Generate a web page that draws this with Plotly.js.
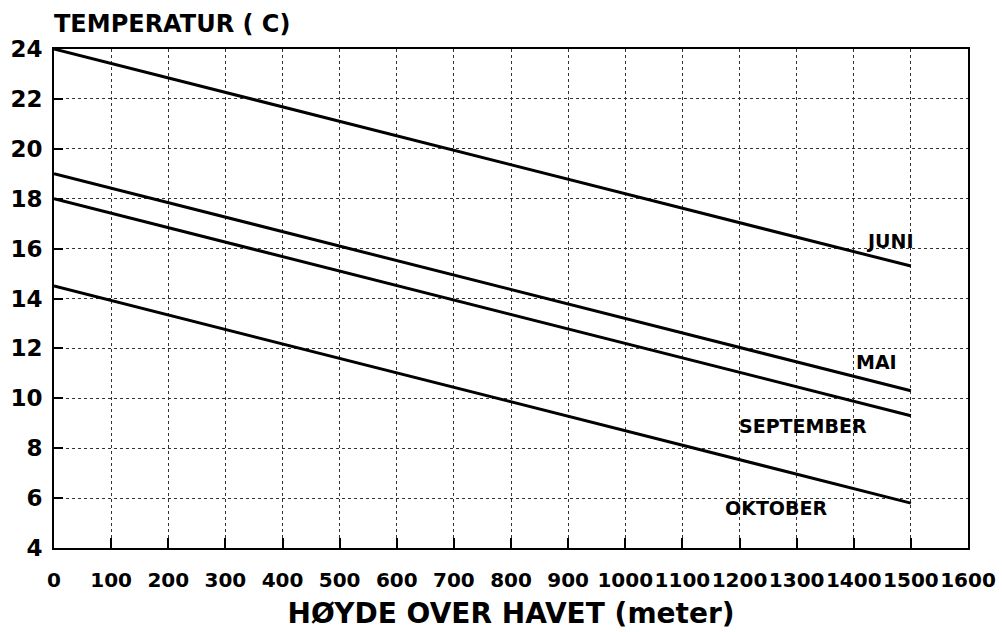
<!DOCTYPE html>
<html>
<head>
<meta charset="utf-8">
<script src="https://cdn.plot.ly/plotly-3.0.1.min.js"></script>
<style>html,body{margin:0;padding:0;background:#fff}#chart{width:1002px;height:632px}</style>
</head>
<body>
<div id="chart"></div>
<script>
// Data
var heights = [0, 1500];
var juni = [24, 15.3];
var mai = [19, 10.3];
var september = [18, 9.3];
var oktober = [14.5, 5.8];

var seriesNames = ["JUNI", "MAI", "SEPTEMBER", "OKTOBER"];
var seriesValues = [juni, mai, september, oktober];
// label positions (data coords)
var labelX = [1463, 1440, 1311, 1264];
var labelY = [16.3, 11.45, 8.9, 5.6];

var xTicks = [0,100,200,300,400,500,600,700,800,900,1000,1100,1200,1300,1400,1500,1600];
var yTicks = [4,6,8,10,12,14,16,18,20,22,24];

var FONT = "DejaVu Sans, Liberation Sans, Arial, sans-serif";

var traces = seriesValues.map(function (vals, i) {
  return {
    x: heights, y: vals, name: seriesNames[i], type: "scatter", mode: "lines",
    line: {color: "#000", width: 3}, hoverinfo: "skip"
  };
});

var annotations = seriesNames.map(function (n, i) {
  return {
    x: labelX[i], y: labelY[i], xref: "x", yref: "y", text: "<b>" + n + "</b>",
    showarrow: false, font: {family: FONT, size: 19, color: "#000"},
    xanchor: "center", yanchor: "middle"
  };
});
annotations.push({
  x: 0, y: 1, xref: "paper", yref: "paper", xanchor: "left", yanchor: "bottom",
  yshift: 9, xshift: -2, showarrow: false,
  text: "<b>TEMPERATUR ( C)</b>", font: {family: FONT, size: 24, color: "#000"}
});

var layout = {
  width: 1002, height: 632,
  margin: {l: 54, r: 34, t: 49, b: 84},
  paper_bgcolor: "#fff", plot_bgcolor: "#fff",
  showlegend: false,
  xaxis: {
    range: [0, 1600], tickvals: xTicks, ticktext: xTicks.map(String),
    tickangle: 0,
    showgrid: true, gridcolor: "#333", griddash: "dot", gridwidth: 1,
    zeroline: false, showline: true, linecolor: "#000", linewidth: 2, mirror: true,
    ticks: "inside", ticklen: 10, tickwidth: 2, tickcolor: "#000",
    ticklabelstandoff: 13,
    tickfont: {family: FONT, size: 20, color: "#000", weight: "bold"},
    title: {text: "<b>HØYDE OVER HAVET (meter)</b>", font: {family: FONT, size: 28, color: "#000"}, standoff: 12}
  },
  yaxis: {
    range: [4, 24], tickvals: yTicks, ticktext: yTicks.map(String),
    showgrid: true, gridcolor: "#333", griddash: "dot", gridwidth: 1,
    zeroline: false, showline: true, linecolor: "#000", linewidth: 2, mirror: true,
    ticks: "inside", ticklen: 9, tickwidth: 2, tickcolor: "#000",
    ticklabelstandoff: 5,
    tickfont: {family: FONT, size: 23, color: "#000", weight: "bold"}
  },
  annotations: annotations
};

Plotly.newPlot("chart", traces, layout, {staticPlot: true, displayModeBar: false});
</script>
</body>
</html>
